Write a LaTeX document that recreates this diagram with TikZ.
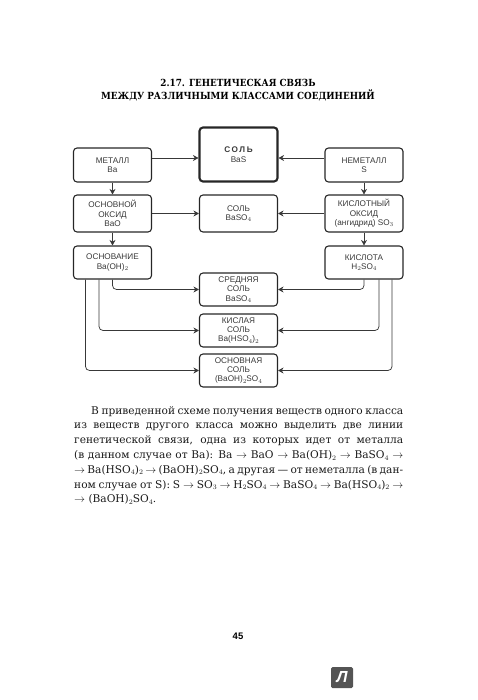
\documentclass[tikz,border=0pt]{standalone}
\usepackage{amsmath}
\usepackage{fontspec}
\setmainfont{DejaVu Serif}
\newfontfamily\boxfont{Liberation Sans}
\newfontfamily\titlefont{DejaVu Serif Condensed}
\usepackage{xcolor}
\usetikzlibrary{positioning,shapes,arrows.meta}
\definecolor{inkgray}{gray}{0.22}
\definecolor{logogray}{gray}{0.33}
\newcommand{\ra}{\ensuremath{\rightarrow}}
\scriptspace=0pt
\begin{document}
\begin{tikzpicture}[x=1pt,y=-1pt,
  classbox/.style={draw=black!85,line width=1.1pt,rounded corners=3.5pt,minimum width=78pt,inner sep=0pt,
    text=inkgray,align=center,font=\boxfont\fontsize{8.2}{9.4}\selectfont},
  mainbox/.style={classbox,line width=2.1pt},
  conn/.style={draw=inkgray,line width=0.75pt,-{Stealth[length=5.5pt,width=6pt]}},
  elbow/.style={conn,rounded corners=4pt},
  titletext/.style={inner sep=0pt,align=center,font=\titlefont\fontsize{9.8}{13}\selectfont\bfseries},
  bodytext/.style={inner sep=0pt,anchor=north west,text width=329pt,align=justify,text=black!90,
    font=\fontsize{10.6}{14.8}\selectfont}]
\useasboundingbox (0,0) rectangle (478,700);
\node [titletext] (title) at (238,90.5) {2.17. ГЕНЕТИЧЕСКАЯ СВЯЗЬ\\МЕЖДУ РАЗЛИЧНЫМИ КЛАССАМИ СОЕДИНЕНИЙ};

\node [mainbox,minimum height=54pt] (salt) at (238.5,154.5) {{\bfseries\addfontfeature{LetterSpace=20}СОЛЬ}\\BaS};
\node [classbox,minimum height=34pt] (metal) at (112.5,165) {МЕТАЛЛ\\Ba};
\node [classbox,minimum height=34pt] (nonmetal) at (364,165) {НЕМЕТАЛЛ\\S};
\node [classbox,minimum height=37pt] (baseoxide) at (112.5,213.5) {ОСНОВНОЙ\\ОКСИД\\BaO};
\node [classbox,minimum height=37pt] (saltmid) at (238.5,213.5) {СОЛЬ\\BaSO$_4$};
\node [classbox,minimum height=37pt] (acidoxide) at (364,213.5) {КИСЛОТНЫЙ\\ОКСИД\\(ангидрид) SO$_3$};
\node [classbox,minimum height=33pt] (base) at (112.5,262.5) {ОСНОВАНИЕ\\Ba(OH)$_2$};
\node [classbox,minimum height=33pt] (acid) at (364,262.5) {КИСЛОТА\\H$_2$SO$_4$};
\node [classbox,minimum height=33pt] (saltavg) at (238.5,289.5) {СРЕДНЯЯ\\СОЛЬ\\BaSO$_4$};
\node [classbox,minimum height=33pt] (saltacid) at (238.5,330.5) {КИСЛАЯ\\СОЛЬ\\Ba(HSO$_4$)$_2$};
\node [classbox,minimum height=33pt] (saltbase) at (238.5,370.5) {ОСНОВНАЯ\\СОЛЬ\\(BaOH)$_2$SO$_4$};

\draw [conn] ([yshift=-3.5pt]salt.west -| metal.east) -- ([yshift=-3.5pt]salt.west);
\draw [conn] ([yshift=-3.5pt]salt.east -| nonmetal.west) -- ([yshift=-3.5pt]salt.east);
\draw [conn] (metal) -- (baseoxide);
\draw [conn] (nonmetal) -- (acidoxide);
\draw [conn] (baseoxide) -- (saltmid);
\draw [conn] (acidoxide) -- (saltmid);
\draw [conn] (baseoxide) -- (base);
\draw [conn] (acidoxide) -- (acid);
\draw [elbow] (base.south) |- (saltavg.west);
\draw [elbow] ([xshift=-13.5pt]base.south) |- (saltacid.west);
\draw [elbow] ([xshift=-27pt]base.south) |- (saltbase.west);
\draw [elbow] (acid.south) |- (saltavg.east);
\draw [elbow] ([xshift=15pt]acid.south) |- (saltacid.east);
\draw [elbow] ([xshift=28pt]acid.south) |- (saltbase.east);

\node [bodytext] (body) at (74,406) {\hspace*{17pt}В приведенной схеме получения веществ одного класса\linebreak
из веществ другого класса можно выделить две линии\linebreak
генетической связи, одна из которых идет от металла\linebreak
(в данном случае от Ba): Ba \ra{} BaO \ra{} Ba(OH)$_2$ \ra{} BaSO$_4$ \ra\linebreak
\ra{} Ba(HSO$_4$)$_2$ \ra{} (BaOH)$_2$SO$_4$, а другая — от неметалла (в дан-\linebreak
ном случае от S): S \ra{} SO$_3$ \ra{} H$_2$SO$_4$ \ra{} BaSO$_4$ \ra{} Ba(HSO$_4$)$_2$ \ra\linebreak
\ra{} (BaOH)$_2$SO$_4$.};

\node [inner sep=0pt,font=\boxfont\bfseries\fontsize{9.5}{11}\selectfont] (pagenum) at (238,636) {45};
\node [fill=logogray,rounded corners=1.5pt,minimum width=22pt,minimum height=21pt,inner sep=0pt,text=white,
  font=\boxfont\bfseries\itshape\fontsize{16}{16}\selectfont] (logo) at (342,677.5) {Л};
\end{tikzpicture}
\end{document}
